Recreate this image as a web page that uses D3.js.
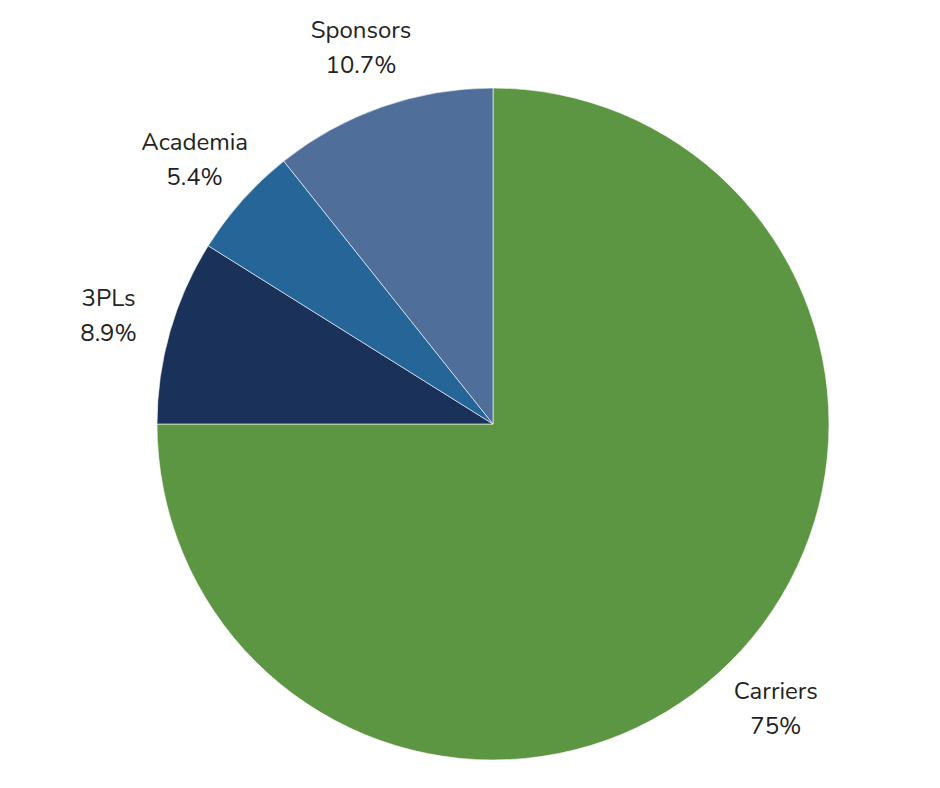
<!DOCTYPE html>
<html><head><meta charset="utf-8">
<script src="https://cdn.jsdelivr.net/npm/d3@7"></script>
<style>body{margin:0;background:#fff}</style>
</head><body>
<svg id="chart" width="940" height="788"></svg>
<script>
const categories = ['Carriers', '3PLs', 'Academia', 'Sponsors'];
const values = [75, 8.9, 5.4, 10.7];
const labels = ['75%', '8.9%', '5.4%', '10.7%'];
const colors = ['#5d9642', '#1a315a', '#256598', '#4f6e9a'];

const svg = d3.select('#chart');
const cx = 493, cy = 424, radius = 336;
const g = svg.append('g').attr('transform', `translate(${cx},${cy})`);

const data = categories.map((c, i) => ({ name: c, value: values[i], label: labels[i], color: colors[i] }));
const pie = d3.pie().value(d => d.value).sort(null);
const arc = d3.arc().innerRadius(0).outerRadius(radius);
const labelArc = d3.arc().innerRadius(400).outerRadius(400);

const arcs = pie(data);
g.selectAll('path').data(arcs).enter().append('path')
    .attr('d', arc)
    .attr('fill', d => d.data.color)
    .attr('stroke', '#ffffff')
    .attr('stroke-width', 0.6);

const lbl = g.selectAll('text.lbl').data(arcs).enter().append('text')
    .attr('class', 'lbl')
    .attr('text-anchor', 'middle')
    .attr('font-family', 'Nunito, Lato, sans-serif')
    .attr('font-size', '24px')
    .attr('fill', '#222')
    .attr('transform', d => `translate(${labelArc.centroid(d)})`);
lbl.append('tspan').attr('x', 0).attr('y', -8).text(d => d.data.name);
lbl.append('tspan').attr('x', 0).attr('y', 27).text(d => d.data.label);
</script>
</body></html>
